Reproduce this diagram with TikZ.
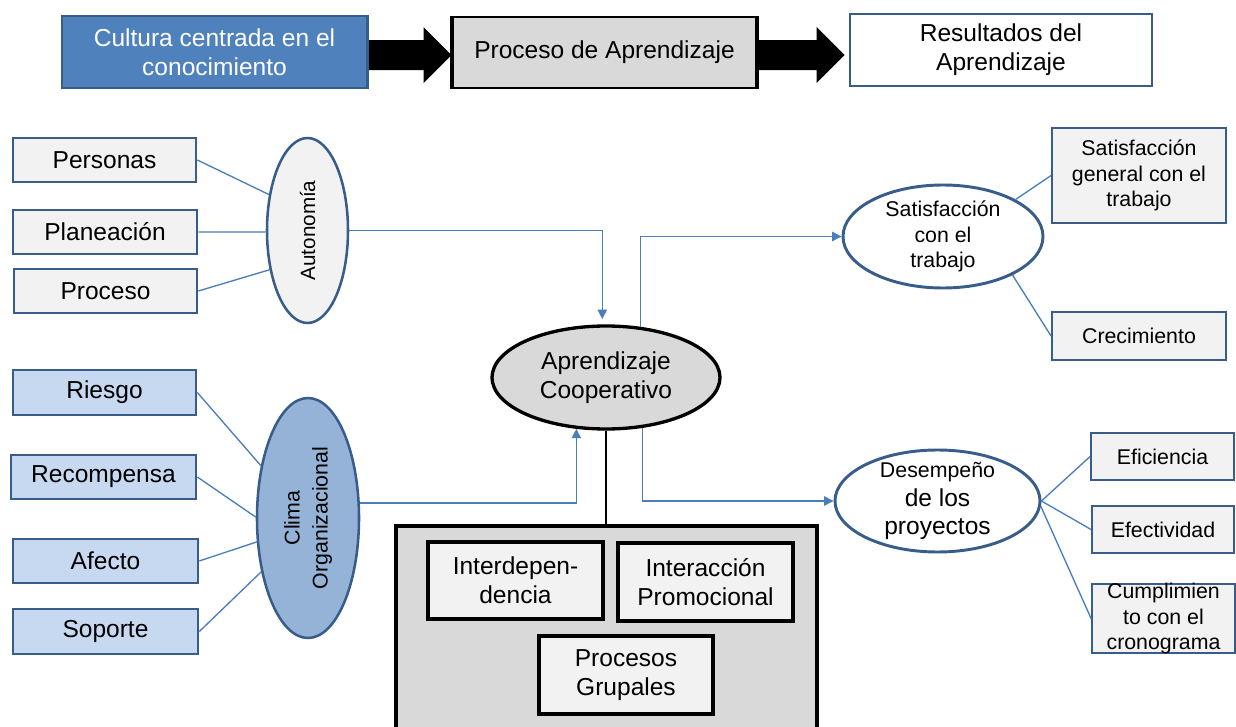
\documentclass[tikz,border=0pt]{standalone}
\usepackage{fontspec}
\setmainfont{Liberation Sans}
\usetikzlibrary{arrows.meta,shapes.geometric,calc}

\definecolor{lineblue}{HTML}{4A7EBB}
\definecolor{navy}{HTML}{385D8A}
\definecolor{midblue}{HTML}{4F81BD}
\definecolor{paleblue}{HTML}{C6D9F1}
\definecolor{climablue}{HTML}{95B3D7}
\definecolor{lightgray}{HTML}{F2F2F2}
\definecolor{midgray}{HTML}{D9D9D9}

\newcommand\mainsz{\fontsize{18.4pt}{21.8pt}\selectfont}
\newcommand\smallsz{\fontsize{16pt}{19.2pt}\selectfont}

\tikzset{
  sz/.style 2 args={minimum width=#1*0.75pt, minimum height=#2*0.75pt},
  base/.style={inner sep=0pt, align=center, font=\mainsz, text=black},
  topblue/.style={base, rectangle, fill=midblue, draw=navy, line width=1.6pt, text=white},
  topgray/.style={base, rectangle, fill=midgray, draw=black, line width=2.2pt},
  topwhite/.style={base, rectangle, fill=white, draw=navy, line width=2pt},
  graybox/.style={base, rectangle, fill=lightgray, draw=navy, line width=2pt},
  bluebox/.style={base, rectangle, fill=paleblue, draw=navy, line width=2pt},
  rightbox/.style={base, rectangle, fill=lightgray, draw=navy, line width=1.4pt, font=\smallsz},
  oval/.style={base, ellipse, line width=1.9pt, draw=navy},
  innerbox/.style={base, rectangle, fill=lightgray, draw=black, line width=2.3pt},
  conn/.style={draw=lineblue, line width=1pt},
  arr/.style={conn, -{Triangle[length=7pt, width=7pt]}},
}

\begin{document}
\begin{tikzpicture}[x=0.75pt, y=-0.75pt]
\useasboundingbox (0,0) rectangle (1236,727);
\clip (0,0) rectangle (1236,727);
\fill[white] (0,0) rectangle (1236,727);

% ---- top row: culture -> process -> results
\node[topblue, sz={305}{72}] (cultura) at (214.5,52) {Cultura centrada en el\\conocimiento};
\node[topgray, sz={303}{71}] (proc) at (604.5,52.5) {Proceso de Aprendizaje};
\node[topwhite, sz={302}{72}] (result) at (1001,50) {Resultados del\\Aprendizaje};

% block arrows between the top boxes
\fill[black] let \p1=(cultura.east), \p2=(proc.west) in
  (\x1,\y1-2.4pt+11.25pt) -- (\x2-21pt,\y1-2.4pt+11.25pt) -- (\x2-21pt,\y1-2.4pt+21pt)
  -- (\x2,\y1-2.4pt) -- (\x2-21pt,\y1-2.4pt-21pt) -- (\x2-21pt,\y1-2.4pt-11.25pt)
  -- (\x1,\y1-2.4pt-11.25pt) -- cycle;
\fill[black] let \p1=(proc.east), \p2=(result.west) in
  (\x1,\y1-1.9pt+11.25pt) -- (\x2-24pt,\y1-1.9pt+11.25pt) -- (\x2-24pt,\y1-1.9pt+21pt)
  -- (\x2-3pt,\y1-1.9pt) -- (\x2-24pt,\y1-1.9pt-21pt) -- (\x2-24pt,\y1-1.9pt-11.25pt)
  -- (\x1,\y1-1.9pt-11.25pt) -- cycle;
% box borders drawn again over the arrow shafts
\draw[navy, line width=1.6pt] (cultura.north east) -- (cultura.south east);
\draw[black, line width=2.2pt] (proc.north west) -- (proc.south west);
\draw[black, line width=2.2pt] (proc.north east) -- (proc.south east);

% ---- autonomy group (rotated ellipse: anchor angles are in the node's own frame)
\node[graybox, sz={183}{44}] (personas) at (104.5,160) {Personas};
\node[graybox, sz={184}{44}] (planeacion) at (105,232) {Planeación};
\node[graybox, sz={183}{44}] (proceso) at (105.5,291) {Proceso};
\node[oval, fill=lightgray, rotate=90, sz={185}{81}, font=\fontsize{15.5pt}{18pt}\selectfont] (auto) at (307.5,230.5) {Autonomía};

\draw[conn] (personas.east) -- (auto.47.5);
\draw[conn] (planeacion.east) -- (auto.92);
\draw[conn] (proceso.east) -- (auto.136.3);

% ---- organisational climate group
\node[bluebox, sz={183}{45}] (riesgo) at (104.5,392.5) {Riesgo};
\node[bluebox, sz={185}{44}] (recompensa) at (103.5,477) {Recompensa};
\node[bluebox, sz={185}{44}] (afecto) at (105.5,561) {Afecto};
\node[bluebox, sz={185}{45}] (soporte) at (105.5,631.5) {Soporte};
\node[oval, fill=climablue, rotate=90, sz={240}{102}, font=\fontsize{16pt}{21pt}\selectfont] (clima) at (308,518) {Clima\\Organizacional};

\draw[conn] (riesgo.east) -- (clima.42.2);
\draw[conn] (recompensa.east) -- (clima.89);
\draw[conn] (afecto.east) -- (clima.115.6);
\draw[conn] (soporte.east) -- (clima.139.2);

% ---- cooperative learning and group processes
\node[base, ellipse, fill=midgray, draw=black, line width=2.5pt, sz={228}{103}] (aprend) at (606,377.5) {Aprendizaje\\Cooperativo};

\node[base, rectangle, fill=midgray, draw=black, line width=2.5pt, sz={421}{228}] (grupo) at (606.5,640) {};
\node[innerbox, sz={175}{77}] (interd) at (515.5,580.5) {Interdepen-\\dencia};
\node[innerbox, sz={175}{78}] (interac) at (705.5,582) {Interacción\\Promocional};
\node[innerbox, sz={174}{78}] (procesos) at (626,675) {Procesos\\Grupales};

\draw[black, line width=1.1pt] (aprend.south) -- (aprend.south |- grupo.north);

\draw[arr, shorten >=4pt] (auto.270) -| (aprend.94.4);
\draw[arr] (clima.286.5) -| (aprend.240.7);

% ---- outcomes
\node[oval, fill=white, line width=2.2pt, inner sep=-6pt, sz={200}{103}, font=\smallsz] (satis) at (943,236.5) {Satisfacción\\con el\\trabajo};
\node[rightbox, sz={174}{95}] (satgen) at (1139,175.5) {Satisfacción\\general con el\\trabajo};
\node[rightbox, sz={174}{48}] (crec) at (1139,336) {Crecimiento};

\node[oval, fill=white, line width=2.2pt, inner sep=-8pt, sz={205}{102}, font=\fontsize{18.4pt}{21.6pt}\selectfont] (desemp) at (937.5,501) {{\smallsz Desempeño}\\de los\\proyectos};
\node[rightbox, sz={143}{47}] (efic) at (1162.5,456.5) {Eficiencia};
\node[rightbox, sz={142}{47}] (efect) at (1163,529.5) {Efectividad};
\node[rightbox, inner ysep=-5pt, sz={143}{69}, font=\fontsize{16pt}{18.8pt}\selectfont] (cumpl) at (1163.5,618.5) {Cumplimien\\to con el\\cronograma};

\draw[arr] (aprend.56.2) |- (satis.west);
\draw[arr] (aprend.306.4) |- (desemp.west);

\draw[conn] (satis.27.5) -- (satgen.west);
\draw[conn] (satis.331.9) -- (crec.west);
\draw[conn] (desemp.east) -- (efic.west);
\draw[conn] (desemp.east) -- (efect.west);
\draw[conn] (desemp.357) -- (cumpl.west);
\end{tikzpicture}
\end{document}
